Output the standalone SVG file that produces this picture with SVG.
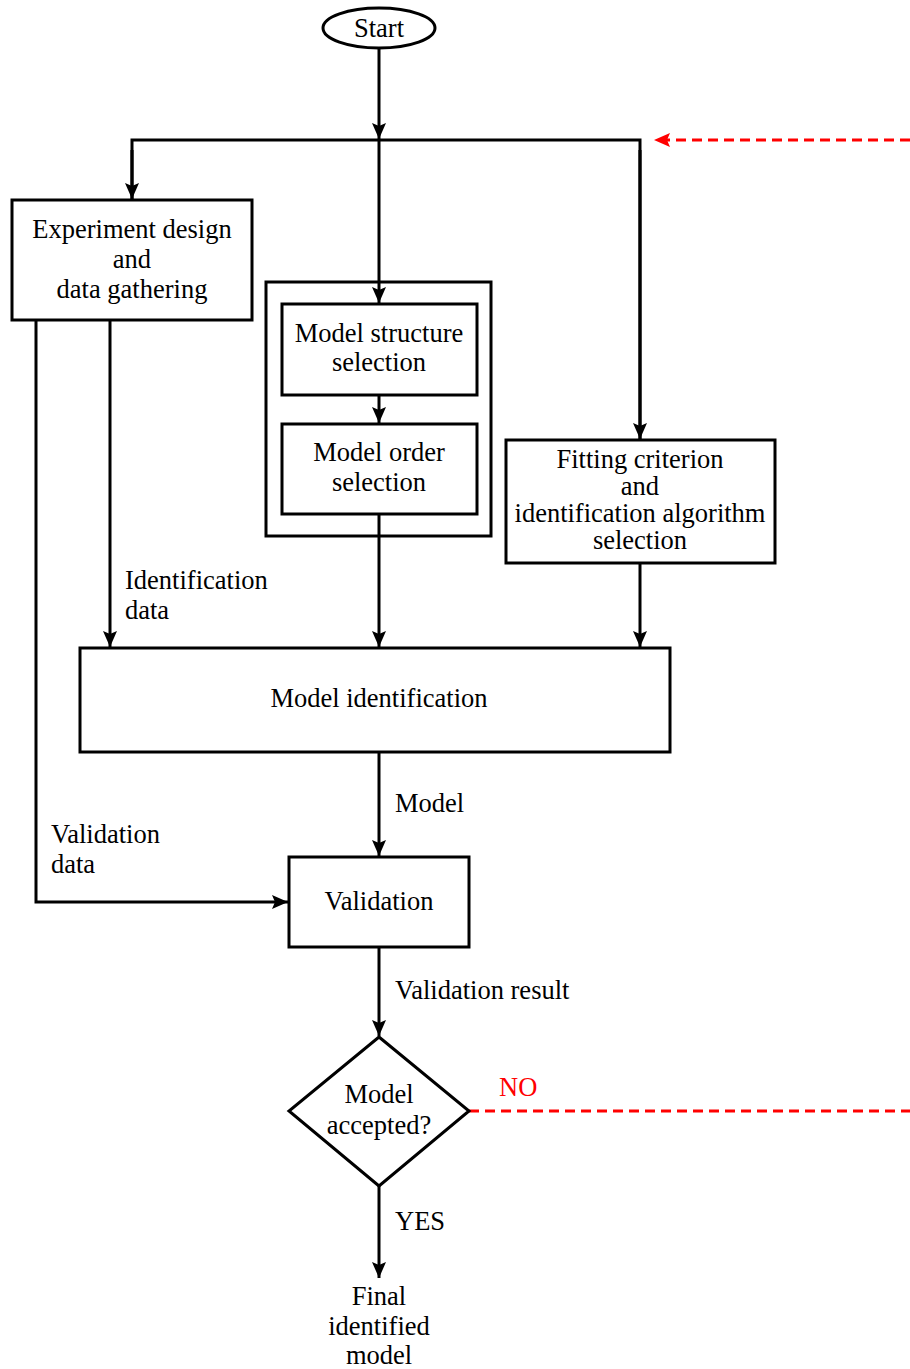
<svg xmlns="http://www.w3.org/2000/svg" width="910" height="1369" viewBox="0 0 910 1369">
<style>
.b{fill:#fff;stroke:#000;stroke-width:3}
.c{fill:none;stroke:#000;stroke-width:3}
.r{fill:none;stroke:#f00;stroke-width:3;stroke-dasharray:10 6}
text{font-family:"Liberation Serif","Times New Roman",serif;font-size:26.5px;fill:#000}
.m{text-anchor:middle}
.red{fill:#f00}
</style>
<defs>
<marker id="a" markerUnits="userSpaceOnUse" markerWidth="18" markerHeight="16" refX="16" refY="7" orient="auto">
<path d="M0,0 L16,7 L0,14 L3,7 Z" fill="#000"/>
</marker>
<marker id="ar" markerUnits="userSpaceOnUse" markerWidth="18" markerHeight="16" refX="16" refY="7" orient="auto">
<path d="M0,0 L16,7 L0,14 L3,7 Z" fill="#f00"/>
</marker>
</defs>
<g id="connectors">
<path class="c" d="M379,48 V139" marker-end="url(#a)"/>
<path class="c" d="M132,199 V140 H640 V439"/>
<path class="c" d="M132,150 V199" marker-end="url(#a)"/>
<path class="c" d="M640,150 V439" marker-end="url(#a)"/>
<path class="c" d="M379,140 V303" marker-end="url(#a)"/>
<path class="r" d="M910,140 H654" marker-end="url(#ar)"/>
<path class="c" d="M379,395 V423" marker-end="url(#a)"/>
<path class="c" d="M379,514 V647" marker-end="url(#a)"/>
<path class="c" d="M640,563 V647" marker-end="url(#a)"/>
<path class="c" d="M110,320 V647" marker-end="url(#a)"/>
<path class="c" d="M36,320 V902 H288" marker-end="url(#a)"/>
<path class="c" d="M379,752 V856" marker-end="url(#a)"/>
<path class="c" d="M379,947 V1036" marker-end="url(#a)"/>
<path class="r" d="M469,1111 H910"/>
<path class="c" d="M379,1186 V1278" marker-end="url(#a)"/>
<text x="125" y="589">Identification</text>
<text x="125" y="619">data</text>
<text x="395" y="812">Model</text>
<text x="51" y="843">Validation</text>
<text x="51" y="873">data</text>
<text x="395" y="999">Validation result</text>
<text x="499" y="1096" class="red">NO</text>
<text x="395" y="1230">YES</text>
</g>
<g id="start">
<ellipse class="b" cx="379" cy="28" rx="56" ry="20"/>
<text x="379" y="37" class="m">Start</text>
</g>
<g id="experiment">
<rect class="b" x="12" y="200" width="240" height="120"/>
<text x="132" y="238" class="m">Experiment design</text>
<text x="132" y="268" class="m">and</text>
<text x="132" y="298" class="m">data gathering</text>
</g>
<g id="model-group">
<rect class="c" x="266" y="282" width="225" height="254"/>
</g>
<g id="structure">
<rect class="b" x="282" y="304" width="195" height="91"/>
<text x="379" y="342" class="m">Model structure</text>
<text x="379" y="371" class="m">selection</text>
</g>
<g id="order">
<rect class="b" x="282" y="424" width="195" height="90"/>
<text x="379" y="461" class="m">Model order</text>
<text x="379" y="491" class="m">selection</text>
</g>
<g id="fitting">
<rect class="b" x="506" y="440" width="269" height="123"/>
<text x="640" y="468" class="m">Fitting criterion</text>
<text x="640" y="495" class="m">and</text>
<text x="640" y="522" class="m">identification algorithm</text>
<text x="640" y="549" class="m">selection</text>
</g>
<g id="identification">
<rect class="b" x="80" y="648" width="590" height="104"/>
<text x="379" y="707" class="m">Model identification</text>
</g>
<g id="validation">
<rect class="b" x="289" y="857" width="180" height="90"/>
<text x="379" y="910" class="m">Validation</text>
</g>
<g id="decision">
<path class="b" d="M379,1037 L469,1111 L379,1186 L289,1111 Z"/>
<text x="379" y="1103" class="m">Model</text>
<text x="379" y="1134" class="m">accepted?</text>
</g>
<g id="final">
<text x="379" y="1305" class="m">Final</text>
<text x="379" y="1335" class="m">identified</text>
<text x="379" y="1364" class="m">model</text>
</g>
</svg>
